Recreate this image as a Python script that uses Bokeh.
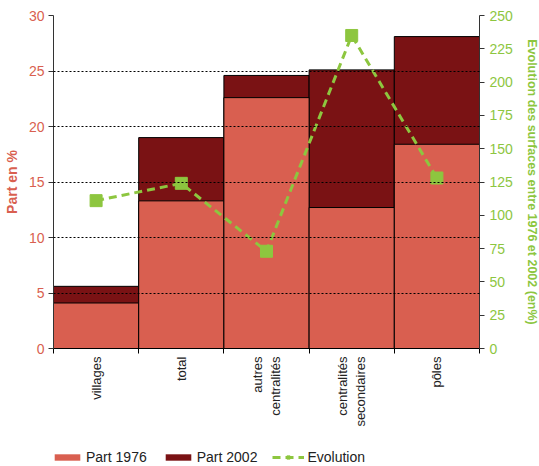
import math
from bokeh.plotting import figure
from bokeh.layouts import column
from bokeh.models import Range1d, LinearAxis, FixedTicker, Legend, LegendItem
from bokeh.embed import file_html
from bokeh.resources import INLINE

categories = ["villages", "total", "autres\ncentralités", "centralités\nsecondaires", "pôles"]
part_1976 = [4.1, 13.3, 22.6, 12.7, 18.4]
part_2002 = [5.6, 19.0, 24.6, 25.1, 28.1]
evolution = [111, 124, 73, 235, 128]
left_ticks = [0, 5, 10, 15, 20, 25, 30]
right_ticks = [0, 25, 50, 75, 100, 125, 150, 175, 200, 225, 250]

C1976 = "#d95f50"
C2002 = "#7a1214"
GREEN = "#8dc63f"
SALMON = "#d95f50"
FONT = "Liberation Sans"

x = [i + 1 for i in range(len(categories))]
bounds = [i + 0.5 for i in range(len(categories) + 1)]

p = figure(frame_width=426, frame_height=333, output_backend="svg", toolbar_location=None,
           x_range=Range1d(0.5, len(categories) + 0.5), y_range=Range1d(0, 30),
           min_border_left=5, min_border_right=0, min_border_top=15, min_border_bottom=99)
p.outline_line_color = None
p.extra_y_ranges = {"evo": Range1d(0, 250)}

r2002 = p.vbar(x=x, top=part_2002, width=1.0, fill_color=C2002, line_color="black", line_width=1)
r1976 = p.vbar(x=x, top=part_1976, width=1.0, fill_color=C1976, line_color="black", line_width=1)
rl = p.line(x, evolution, y_range_name="evo", line_color=GREEN, line_width=3, line_dash="8 5")
rs = p.scatter(x, evolution, y_range_name="evo", marker="square", size=12,
               fill_color=GREEN, line_color=GREEN)

# x axis
xa = p.xaxis[0]
xa.ticker = FixedTicker(ticks=x, minor_ticks=bounds)
xa.major_label_overrides = {xi: c for xi, c in zip(x, categories)}
xa.major_label_orientation = math.pi / 2
xa.major_tick_line_color = None
xa.major_tick_out = 5
xa.minor_tick_line_color = "black"
xa.minor_tick_out = 5
xa.minor_tick_in = 0
xa.minor_tick_line_width = 1
xa.axis_line_color = "black"
xa.major_label_text_font = FONT
xa.major_label_text_font_size = "13px"
xa.major_label_text_color = "#222222"
xa.major_label_standoff = 3

# left axis
ya = p.yaxis[0]
ya.ticker = FixedTicker(ticks=left_ticks)
ya.axis_label = "Part en %"
ya.axis_label_text_font = FONT
ya.axis_label_text_font_style = "bold"
ya.axis_label_text_font_size = "14px"
ya.axis_label_text_color = SALMON
ya.axis_label_standoff = 6
ya.major_label_text_font = FONT
ya.major_label_text_font_size = "14px"
ya.major_label_text_color = SALMON
ya.axis_line_color = "#333333"
ya.major_tick_line_color = "#333333"
ya.major_tick_out = 5
ya.major_tick_in = 0
ya.minor_tick_line_color = None
ya.major_label_standoff = 4

# right axis
ra = LinearAxis(y_range_name="evo", ticker=FixedTicker(ticks=right_ticks))
ra.axis_label = "Evolution des surfaces entre 1976 et 2002 (en%)"
ra.axis_label_text_font = FONT
ra.axis_label_text_font_style = "bold"
ra.axis_label_text_font_size = "12.5px"
ra.axis_label_text_color = GREEN
ra.axis_label_standoff = 9
ra.major_label_text_font = FONT
ra.major_label_text_font_size = "14px"
ra.major_label_text_color = GREEN
ra.axis_line_color = "#333333"
ra.major_tick_line_color = "#333333"
ra.major_tick_out = 5
ra.major_tick_in = 0
ra.minor_tick_line_color = None
ra.major_label_standoff = 5
p.add_layout(ra, "right")

# grid
p.xgrid.grid_line_color = None
p.ygrid.ticker = FixedTicker(ticks=left_ticks[1:])
p.ygrid.grid_line_color = "black"
p.ygrid.grid_line_dash = "2 2"
p.ygrid.grid_line_width = 1
p.ygrid.level = "overlay"

# legend strip (separate figure; its glyphs fall outside its ranges, only the legend shows)
lg = figure(width=539, height=20, output_backend="svg", toolbar_location=None,
            x_axis_type=None, y_axis_type=None,
            x_range=Range1d(100, 101), y_range=Range1d(1000, 1001),
            min_border_left=0, min_border_right=0, min_border_top=0, min_border_bottom=0)
lg.outline_line_color = None
lg.grid.visible = False
l1976 = lg.vbar(x=x, top=part_1976, width=1.0, fill_color=C1976, line_color=None)
l2002 = lg.vbar(x=x, top=part_2002, width=1.0, fill_color=C2002, line_color=None)
ll = lg.line(x, evolution, line_color=GREEN, line_width=3, line_dash="8 5")
ls = lg.scatter(x, evolution, marker="square", size=9, fill_color=GREEN, line_color=GREEN)

legend = Legend(items=[
    LegendItem(label="Part 1976", renderers=[l1976]),
    LegendItem(label="Part 2002", renderers=[l2002]),
    LegendItem(label="Evolution", renderers=[ll, ls]),
], orientation="horizontal", location=(-2, 0))
legend.label_text_font = FONT
legend.label_text_font_size = "14px"
legend.label_text_color = "#222222"
legend.label_height = 20
legend.glyph_width = 32
legend.glyph_height = 8
legend.spacing = 15
legend.label_standoff = 3
legend.border_line_color = None
legend.background_fill_alpha = 0
legend.padding = 0
legend.margin = 0
lg.add_layout(legend, "center")

layout = column(p, lg, spacing=0)
open("out.html", "w").write(file_html(layout, INLINE))
